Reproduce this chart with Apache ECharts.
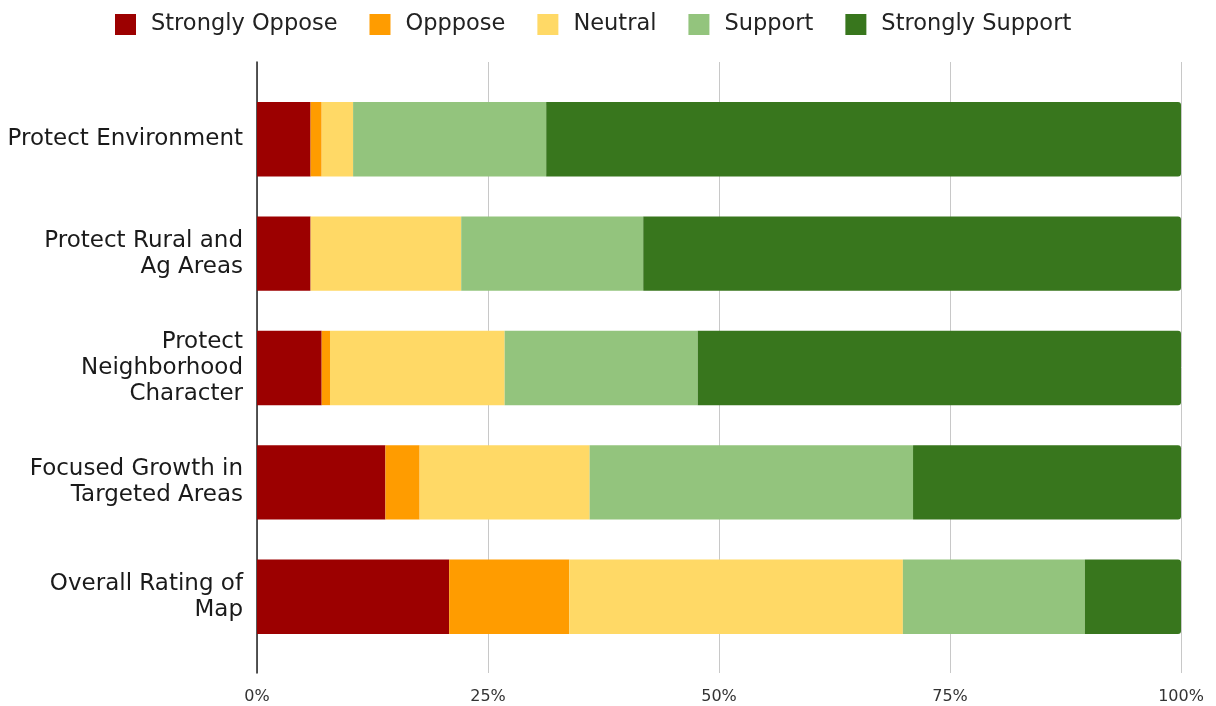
<!DOCTYPE html>
<html>
<head>
<meta charset="utf-8">
<script src="https://cdn.jsdelivr.net/npm/echarts@6/dist/echarts.min.js"></script>
<style>
html,body{margin:0;padding:0;background:#fff;}
#chart{width:1216px;height:706px;}
</style>
</head>
<body>
<div id="chart"></div>
<script>
const categories = [
  'Protect Environment',
  'Protect Rural and\nAg Areas',
  'Protect\nNeighborhood\nCharacter',
  'Focused Growth in\nTargeted Areas',
  'Overall Rating of\nMap'
];
const seriesNames = ['Strongly Oppose', 'Opppose', 'Neutral', 'Support', 'Strongly Support'];
const stronglyOppose = [5.8, 5.8, 7.0, 13.9, 20.8];
const oppose = [1.2, 0, 0.9, 3.7, 13.0];
const neutral = [3.4, 16.3, 18.9, 18.4, 36.1];
const support = [20.9, 19.7, 20.9, 35.0, 19.7];
const stronglySupport = [68.7, 58.2, 52.3, 29.0, 10.4];
const tickValues = [0, 25, 50, 75, 100];
const colors = ['#9C0000', '#FF9C00', '#FFD966', '#93C47D', '#38761D'];

const allValues = [stronglyOppose, oppose, neutral, support, stronglySupport];
const FONT = 'DejaVu Sans';

const chart = echarts.init(document.getElementById('chart'));
chart.setOption({
  animation: false,
  color: colors,
  legend: {
    left: 110,
    top: 8,
    itemWidth: 21,
    itemHeight: 21,
    itemGap: 32,
    icon: 'rect',
    data: seriesNames,
    textStyle: { fontFamily: FONT, fontSize: 22.5, color: '#222', padding: [0, 0, 0, 10] }
  },
  grid: [
    { left: 257, right: 35, top: 62, bottom: 33 },
    { left: 257, right: 35, top: 82, bottom: 52 }
  ],
  xAxis: [
    {
      gridIndex: 0, type: 'value', min: tickValues[0], max: tickValues[tickValues.length - 1], interval: 25,
      axisLine: { show: false }, axisTick: { show: false },
      splitLine: { show: true, lineStyle: { color: '#c8c8c8', width: 1 } },
      axisLabel: { formatter: '{value}%', fontFamily: FONT, fontSize: 16, color: '#333', margin: 16 }
    },
    {
      gridIndex: 1, type: 'value', min: 0, max: 100, interval: 25, show: false,
      splitLine: { show: false }
    }
  ],
  yAxis: [
    {
      gridIndex: 0, type: 'value', min: 0, max: 1,
      axisLine: { show: true, lineStyle: { color: '#222', width: 1.5 } },
      axisTick: { show: false }, axisLabel: { show: false }, splitLine: { show: false }
    },
    {
      gridIndex: 1, type: 'category', inverse: true, data: categories,
      axisLine: { show: false }, axisTick: { show: false },
      axisLabel: { fontFamily: FONT, fontSize: 23, color: '#1a1a1a', margin: 14, lineHeight: 26, align: 'right' }
    }
  ],
  series: seriesNames.map((name, i) => ({
    name: name,
    type: 'bar',
    stack: 'total',
    xAxisIndex: 1,
    yAxisIndex: 1,
    barWidth: '65%',
    data: allValues[i],
    itemStyle: { color: colors[i], borderRadius: i === 4 ? [0, 3, 3, 0] : 0 }
  }))
});
</script>
</body>
</html>
